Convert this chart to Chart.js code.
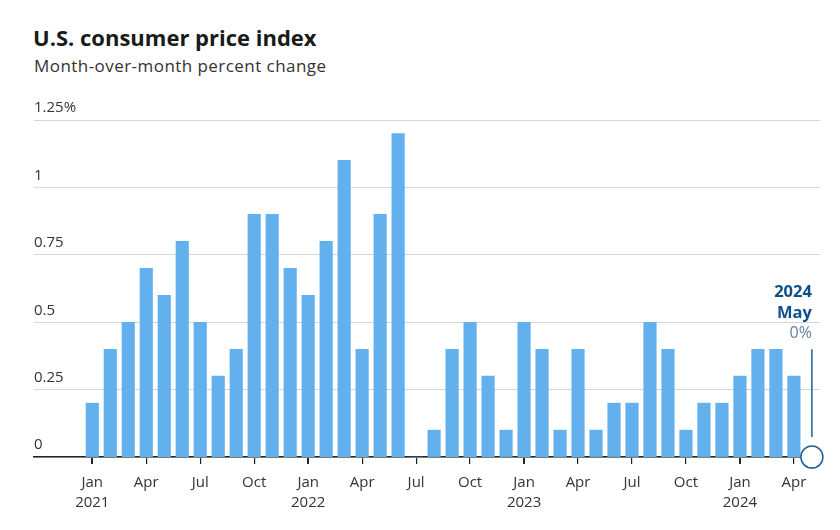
<!DOCTYPE html>
<html>
<head>
<meta charset="utf-8">
<script src="https://cdn.jsdelivr.net/npm/chart.js@4"></script>
<style>
  html, body { margin:0; padding:0; background:#fff; }
  body { width:840px; height:530px; position:relative; overflow:hidden; font-family: "Open Sans", Lato, sans-serif; }
  #title { position:absolute; left:33px; top:22px; font-size:22px; font-weight:700; color:#1a1a1a; }
  #subtitle { position:absolute; left:34px; top:54px; font-size:17px; letter-spacing:0.45px; color:#333; }
  #wrap { position:absolute; left:0; top:0; width:840px; height:530px; }
</style>
</head>
<body>
<div id="title">U.S. consumer price index</div>
<div id="subtitle">Month-over-month percent change</div>
<div id="wrap"><canvas id="cpiBars"></canvas></div>
<script>
const monthNames = ['Jan','Feb','Mar','Apr','May','Jun','Jul','Aug','Sep','Oct','Nov','Dec'];
const startYear = 2021;
// Jan 2021 .. May 2024
const cpiChange = [
  0.2, 0.4, 0.5, 0.7, 0.6, 0.8, 0.5, 0.3, 0.4, 0.9, 0.9, 0.7,
  0.6, 0.8, 1.1, 0.4, 0.9, 1.2, 0, 0.1, 0.4, 0.5, 0.3, 0.1,
  0.5, 0.4, 0.1, 0.4, 0.1, 0.2, 0.2, 0.5, 0.4, 0.1, 0.2, 0.2,
  0.3, 0.4, 0.4, 0.3, 0
];
const xTickMonths = [0, 3, 6, 9, 12, 15, 18, 21, 24, 27, 30, 33, 36, 39];
const yTicks = [0, 0.25, 0.5, 0.75, 1, 1.25];
const yTickLabels = ['0', '0.25', '0.5', '0.75', '1', '1.25%'];

const FONT = '"Open Sans", Lato, sans-serif';
const lastIdx = cpiChange.length - 1;

// highlight for latest month
const latestMarker = {
  id: 'latestMarker',
  afterDatasetsDraw(chart) {
    const { ctx, scales: { x, y } } = chart;
    const px = x.getPixelForValue(lastIdx);
    const py = y.getPixelForValue(cpiChange[lastIdx]);
    const r = 11;
    ctx.save();
    ctx.strokeStyle = '#1d5f99';
    ctx.lineWidth = 1.5;
    ctx.beginPath();
    ctx.moveTo(px, y.getPixelForValue(0.4));
    ctx.lineTo(px, py - r - 9);
    ctx.stroke();
    ctx.beginPath();
    ctx.arc(px, py, r, 0, Math.PI * 2);
    ctx.fillStyle = '#fff';
    ctx.fill();
    ctx.stroke();

    ctx.textAlign = 'right';
    ctx.textBaseline = 'alphabetic';
    ctx.fillStyle = '#0f4f8b';
    ctx.font = '700 16.5px ' + FONT;
    const year = startYear + Math.floor(lastIdx / 12);
    ctx.fillText(String(year), px, 297);
    ctx.fillText(monthNames[lastIdx % 12], px, 318);
    ctx.fillStyle = '#5d7f9f';
    ctx.font = '400 16px ' + FONT;
    ctx.fillText(cpiChange[lastIdx] + '%', px, 338);
    ctx.restore();
  }
};

new Chart(document.getElementById('cpiBars'), {
  type: 'bar',
  data: {
    datasets: [{
      data: cpiChange.map((v, i) => ({ x: i, y: v })),
      backgroundColor: '#63b0ee',
      barThickness: 12.5
    }]
  },
  options: {
    responsive: true,
    maintainAspectRatio: false,
    animation: false,
    layout: { padding: { left: 34, right: 20, top: 120, bottom: 8 } },
    plugins: { legend: { display: false }, tooltip: { enabled: false } },
    scales: {
      x: {
        type: 'linear',
        offset: false,
        min: -3.24,
        max: 40.45,
        afterBuildTicks(scale) {
          scale.ticks = xTickMonths.map(v => ({ value: v }));
        },
        grid: {
          offset: false,
          drawOnChartArea: false,
          drawTicks: true,
          tickLength: 7,
          color: '#222',
          lineWidth: c => (c.tick && c.tick.value % 12 === 0 ? 2 : 1.2)
        },
        border: { display: true, color: '#222', width: 1.5 },
        ticks: {
          autoSkip: false,
          maxRotation: 0,
          padding: 9,
          color: '#333',
          font: { family: FONT, size: 15, lineHeight: 1.33 },
          callback: v => {
            const m = monthNames[v % 12];
            return v % 12 === 0 ? [m, String(startYear + v / 12)] : m;
          }
        }
      },
      y: {
        min: 0,
        max: 1.25,
        afterBuildTicks(scale) {
          scale.ticks = yTicks.map(v => ({ value: v }));
        },
        grid: { color: '#d6d6d6', lineWidth: 1, drawTicks: false },
        border: { display: false },
        ticks: {
          mirror: true,
          padding: 0,
          labelOffset: -12,
          color: '#333',
          font: { family: FONT, size: 15 },
          callback: (v, i) => yTickLabels[yTicks.indexOf(v)]
        }
      }
    }
  },
  plugins: [latestMarker]
});
</script>
</body>
</html>
